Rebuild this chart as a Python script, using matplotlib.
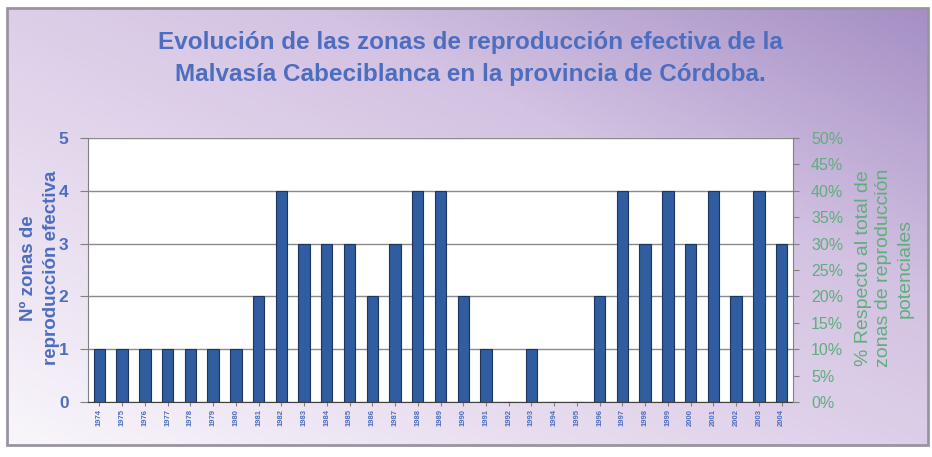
import numpy as np
import matplotlib
matplotlib.use("Agg")
import matplotlib.pyplot as plt
from matplotlib.colors import LinearSegmentedColormap
from matplotlib.patches import Rectangle

years = [str(y) for y in range(1974, 2005)]
values = [1, 1, 1, 1, 1, 1, 1, 2, 4, 3, 3, 3, 2, 3, 4, 4, 2, 1, 0, 1, 0, 0,
          2, 4, 3, 4, 3, 4, 2, 4, 3]
left_ticks = [0, 1, 2, 3, 4, 5]
right_ticks = [0, 5, 10, 15, 20, 25, 30, 35, 40, 45, 50]

title = ("Evolución de las zonas de reproducción efectiva de la\n"
         "Malvasía Cabeciblanca en la provincia de Córdoba.")
ylabel_left = "Nº zonas de\nreproducción efectiva"
ylabel_right = "% Respecto al total de\nzonas de reproducción\npotenciales"

blue_txt = "#4d6dbf"
green_txt = "#5fae7c"

plt.rcParams['font.family'] = ['Liberation Sans', 'DejaVu Sans']

fig = plt.figure(figsize=(9.32, 4.57), dpi=100)
fig.patch.set_facecolor("white")

# background gradient panel
bg = fig.add_axes([0, 0, 1, 1])
bg.set_xlim(0, 932)
bg.set_ylim(457, 0)
bg.axis("off")
nx, ny = 200, 100
xx, yy = np.meshgrid(np.linspace(0, 1, nx), np.linspace(0, 1, ny))
d = 0.5 * xx + 0.5 * (1 - yy)
d = np.clip(d, 0, 1)
cmap = LinearSegmentedColormap.from_list("g", ["#f9f6fb", "#e6daee", "#d3c2e2", "#a58fc5"])
bg.imshow(d, cmap=cmap, extent=(7, 928, 445, 8), aspect="auto", zorder=0)
bg.add_patch(Rectangle((7, 8), 921, 437, fill=False, edgecolor="#9a94a0", lw=2, zorder=1))

ax = fig.add_axes([88 / 932, 1 - 402 / 457, (793 - 88) / 932, (402 - 138) / 457])
ax.set_facecolor("white")
x = np.arange(len(years))
ax.bar(x, values, width=0.5, color="#2f5d9f", edgecolor="#1b3560", linewidth=0.8, zorder=3)
ax.set_xlim(-0.5, len(years) - 0.5)
ax.set_ylim(0, 5)
ax.set_yticks(left_ticks)
ax.set_yticklabels([str(t) for t in left_ticks], color=blue_txt, fontsize=12.5, fontweight="bold")
ax.yaxis.grid(True, color="#8a8a8a", lw=1, zorder=1)
ax.set_xticks(x)
ax.set_xticklabels(years, rotation=90, fontsize=5.5, color=blue_txt, fontweight="bold")
ax.tick_params(axis="x", length=3, color="#808080", pad=2)
ax.tick_params(axis="y", length=6, color="#808080", pad=8)
for s in ["top", "right"]:
    ax.spines[s].set_visible(False)
ax.spines["left"].set_color("#808080")
ax.spines["bottom"].set_color("#404040")

fig.text(40 / 932, 1 - 268 / 457, ylabel_left, ha="center", va="center", rotation=90,
         color=blue_txt, fontsize=13.5, fontweight="bold", linespacing=1.4)

ax2 = ax.twinx()
ax2.set_ylim(0, 50)
ax2.set_yticks(right_ticks)
ax2.set_yticklabels([f"{t}%" for t in right_ticks], color=green_txt, fontsize=11.5)
ax2.tick_params(axis="y", length=4, color="#808080", pad=9)
for s in ["top", "left", "bottom"]:
    ax2.spines[s].set_visible(False)
ax2.spines["right"].set_color("#808080")

fig.text(884 / 932, 1 - 268 / 457, ylabel_right, ha="center", va="center", rotation=90,
         color=green_txt, fontsize=14, linespacing=1.3)

fig.text(470 / 932, 1 - 58 / 457, title, ha="center", va="center", color=blue_txt,
         fontsize=17.5, fontweight="bold", linespacing=1.5)

fig.savefig("out.png", dpi=100)
